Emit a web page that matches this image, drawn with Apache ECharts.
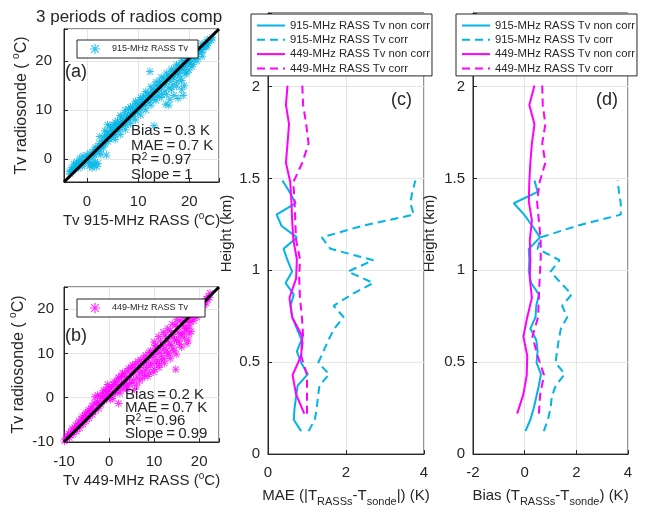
<!DOCTYPE html>
<html><head><meta charset="utf-8">
<script src="https://cdn.jsdelivr.net/npm/echarts@6/dist/echarts.min.js"></script>
<style>html,body{margin:0;padding:0;background:#fff}#c{width:646px;height:512px}</style>
</head><body><div id="c"></div><script>
// ---------------- data ----------------
const titleText = '3 periods of radios comp';
// panel (a): [Tv 915-MHz RASS, Tv radiosonde] (deg C)
const scatter915 = [[-3.4,-2.6],[-3.0,-1.8],[-2.6,-1.0],[-2.8,-2.2],[-2.2,-1.5],[-2.0,-0.6],[-1.6,-1.2],[-1.4,0.2],[-1.0,-0.8],[-0.8,0.6],[-0.4,-0.3],[0.0,0.8],[0.2,-0.6],[0.5,-1.4],[0.8,-0.9],[1.0,-1.8],[1.3,-1.2],[1.6,-0.6],[1.9,-1.6],[2.1,-0.9],[0.6,1.2],[1.1,0.4],[1.5,2.0],[1.8,1.1],[2.3,2.6],[2.5,1.6],[2.7,0.9],
[3.0,3.8],[3.2,2.4],[3.4,4.8],[3.6,3.1],[3.9,5.6],[3.8,0.8],[4.1,3.6],[4.3,5.0],[4.6,6.4],[4.8,4.3],[5.0,5.8],[5.3,7.0],[5.5,4.9],[5.7,6.3],[6.0,7.8],[6.2,5.8],[6.4,7.0],[6.7,8.6],[6.9,6.6],[7.2,7.9],[7.4,9.4],[7.6,7.0],[7.9,8.6],[8.1,10.2],[8.3,8.0],[8.6,9.3],[8.9,10.8],[9.1,8.7],[9.4,10.0],[9.6,11.4],[9.9,9.6],[10.2,11.0],[10.4,12.1],[10.6,10.2],[10.9,11.6],[11.1,12.9],[11.4,10.9],[11.6,12.3],[11.9,13.5],[12.1,11.6],[12.3,17.9],[12.4,13.0],[12.7,14.3],[12.9,12.2],[13.1,6.8],[13.2,13.8],[13.5,15.1],[13.7,12.8],[14.0,14.5],[14.2,15.9],[14.5,13.3],[14.7,15.2],[15.0,16.6],[15.2,13.9],[15.4,11.2],[15.5,15.8],[15.8,17.2],[16.0,14.6],[16.2,12.2],[16.3,16.4],[16.6,17.9],[16.8,15.2],[17.0,13.0],[17.1,17.0],[17.4,18.6],[17.6,15.9],[17.9,17.6],[18.1,19.2],[18.3,16.6],[18.5,14.2],[18.7,18.3],[19.0,19.9],[19.2,17.4],[19.4,18.9],[19.7,20.6],[19.9,18.2],[20.2,19.6],[20.4,21.2],[20.7,19.4],[21.0,20.6],[21.3,21.9],[21.6,20.9],[22.0,22.3],[22.4,21.8],[22.8,23.0],[23.3,22.9],[23.7,23.7],[24.1,24.5],[24.5,24.9],
[-3.3,-3.0],[-2.9,-2.4],[-2.5,-2.0],[-2.1,-1.0],[-1.7,-1.9],[-1.3,-0.6],[-0.9,-1.5],[-0.5,-0.9],[-0.1,0.3],[0.3,0.0],[0.7,0.5],[1.1,1.4],[1.4,0.9],[1.7,2.4],[2.0,2.0],[2.4,3.2],[2.8,2.3],[3.1,3.2],[3.5,3.9],[3.9,4.4],[4.2,4.2],[4.6,5.1],[4.9,5.6],[5.2,5.3],[5.6,6.1],[5.9,6.8],[6.3,6.4],[6.6,7.3],[6.9,7.7],[7.3,7.4],[7.7,8.3],[8.0,8.8],[8.4,8.6],[8.8,9.5],[9.2,9.9],[9.5,9.6],[9.9,10.6],[10.3,10.7],[10.7,11.3],[11.0,11.5],[11.4,11.9],[11.8,12.0],[12.2,12.9],[12.6,12.7],[13.0,13.6],[13.4,13.6],[13.8,14.5],[14.1,14.2],[14.5,15.0],[14.9,15.5],[15.3,15.4],[15.7,16.3],[16.1,16.2],[16.5,17.0],[16.9,16.7],[17.3,17.9],[17.7,17.5],[18.1,18.1],[18.5,19.2],[18.9,18.7],[19.3,19.6],[19.6,20.2],[20.0,19.9],[20.5,20.7],[20.9,21.3],[21.3,21.0],[21.8,22.2],[22.2,22.7],[22.7,22.4],[23.1,23.6],[23.5,23.2],[24.3,24.3],
[3.5,5.8],[4.5,6.9],[5.5,7.5],[6.5,8.9],[7.5,10.0],[2.5,4.6],[4.0,7.0],[8.5,10.6],[9.5,11.8],[10.5,12.6],[11.5,13.8],[12.5,14.8],[13.5,15.8],[14.5,16.7],[15.5,17.6],[16.5,18.4],[17.5,19.3],[18.5,20.2],[19.5,21.1],[20.5,21.8],[21.5,22.6],[22.5,23.6],[23.5,24.4],
[14.5,12.6],[15.5,13.2],[16.5,14.2],[17.5,14.9],[18.5,16.0],[19.5,17.6],[20.5,18.9],[21.5,20.0],[22.5,21.0],[16.0,11.0],[17.8,12.4],[18.8,13.0],[19.0,15.0],[9.5,8.0],[10.5,9.0],[11.5,10.0],[12.5,11.0],[13.5,12.0],[5.5,4.0],[6.5,5.0],[7.5,6.0],[8.5,7.2]];
const fitLine915 = [[-4.5,-4.7],[25.8,26.6]];
// panel (b): [Tv 449-MHz RASS, Tv radiosonde]
const scatter449 = [[-9.6,-9.4],[-9.2,-8.6],[-8.8,-9.0],[-8.4,-7.6],[-8.0,-8.3],[-7.6,-6.8],[-7.2,-7.6],[-6.9,-5.9],[-6.5,-6.8],[-6.1,-4.8],[-5.8,-6.0],[-5.4,-4.0],[-5.1,-5.3],[-4.7,-3.2],[-4.4,-4.6],[-4.0,-2.4],[-3.7,-3.8],[-3.3,-1.2],[-3.1,0.2],[-3.0,-3.0],[-2.6,-0.8],[-2.3,-2.4],[-2.0,0.4],[-1.8,-1.5],[-1.4,1.0],[-1.1,-0.6],[-0.8,1.8],[-0.5,0.0],[-0.2,2.4],[0.1,0.6],[0.4,2.0],[0.7,-0.2],[1.0,3.0],[1.3,1.2],[1.6,3.6],[1.9,1.8],[2.1,-1.3],[2.2,4.4],[2.5,2.4],[2.8,4.8],[3.1,2.0],[3.4,5.4],[3.7,3.4],[4.0,6.0],[4.2,2.4],[4.5,4.4],[4.8,6.8],[5.1,3.4],[5.4,5.8],[5.7,1.9],[5.9,7.6],[6.2,4.6],[6.5,6.8],[6.8,3.8],[7.0,8.6],[7.3,5.8],[7.6,7.8],[7.9,5.0],[8.1,9.6],[8.4,6.8],[8.7,8.8],[9.0,5.6],[9.2,10.6],[9.5,7.8],[9.8,9.8],[10.1,6.4],[10.3,11.8],[10.6,8.6],[10.9,10.8],[11.2,7.6],[11.4,12.8],[11.7,9.6],[12.0,11.8],[12.2,8.8],[12.5,14.2],[12.8,10.8],[13.1,12.8],[13.3,9.6],[13.6,15.2],[13.9,11.8],[14.2,13.8],[14.4,10.6],[14.8,6.4],[14.7,16.4],[15.0,13.0],[15.3,14.8],[15.6,12.0],[15.8,17.4],[16.1,14.2],[16.4,16.0],[16.7,13.4],[16.9,18.2],[17.2,15.6],[17.5,17.0],[17.6,13.0],[17.8,14.4],[18.0,19.0],[18.2,17.2],[18.5,18.2],[18.7,19.8],[19.0,18.6],[19.3,20.4],[19.6,19.4],[20.0,20.8],[20.4,20.2],[20.8,21.6],[21.2,21.0],[21.6,22.3],[22.0,22.8],[22.4,23.6],
[-9.9,-9.8],[-9.4,-9.0],[-9.0,-8.1],[-8.6,-8.4],[-8.2,-7.0],[-7.8,-7.4],[-7.4,-6.2],[-7.0,-6.9],[-6.7,-5.2],[-6.3,-5.9],[-5.9,-4.2],[-5.6,-5.1],[-5.2,-3.4],[-4.9,-4.2],[-4.5,-2.8],[-4.2,-3.6],[-3.8,-1.9],[-3.5,-2.9],[-2.8,-1.6],[-2.5,0.6],[-2.1,-1.2],[-1.6,-0.1],[-1.2,1.6],[-0.9,0.0],[-0.6,1.0],[-0.3,3.0],[0.0,1.4],[0.3,-0.4],[0.6,2.6],[0.9,0.8],[1.2,3.6],[1.5,1.6],[1.8,2.6],[2.1,4.6],[2.4,1.0],[2.7,3.4],[3.0,5.6],[3.3,3.0],[3.6,4.6],[3.9,2.0],[4.3,6.6],[4.6,3.2],[4.9,5.4],[5.2,7.4],[5.5,4.0],[5.8,6.4],[6.1,2.8],[6.4,8.2],[6.7,5.6],[7.0,7.2],[7.4,4.4],[7.7,9.0],[8.0,6.2],[8.3,8.0],[8.6,4.8],[8.9,10.2],[9.2,7.2],[9.6,9.2],[9.9,5.8],[10.2,11.2],[10.5,7.8],[10.8,10.0],[11.1,6.8],[11.4,11.6],[11.7,8.6],[12.0,10.8],[12.3,7.8],[12.7,13.4],[13.0,10.0],[13.3,12.0],[13.6,8.8],[13.9,14.4],[14.2,11.0],[14.5,13.0],[14.9,9.8],[15.2,16.0],[15.5,12.8],[15.8,14.2],[16.1,11.4],[16.4,17.0],[16.7,14.6],[17.0,15.6],[17.3,12.2],[17.6,17.8],[17.9,16.0],[18.2,15.0],[18.4,18.6],[18.8,17.4],[19.1,19.2],[19.5,18.2],[19.9,19.4],[20.3,21.0],[20.7,20.4],[21.1,21.6],[21.5,21.4],[21.9,22.2],[22.3,22.6],
[10.0,12.6],[11.0,13.8],[12.0,14.8],[13.0,15.6],[14.0,16.6],[15.0,17.6],[16.0,18.6],[17.0,19.4],[18.0,20.2],[19.0,21.0]];
const fitLine449 = [[-10,-10],[24.4,25]];
const statsA = ['Bias\u2009=\u20090.3 K','MAE\u2009=\u20090.7 K','R{sup|2}\u2009=\u20090.97','Slope\u2009=\u20091'];
const statsB = ['Bias\u2009=\u20090.2 K','MAE\u2009=\u20090.7 K','R{sup|2}\u2009=\u20090.96','Slope\u2009=\u20090.99'];
// profiles (heights in km)
const h915 = [0.125,0.187,0.249,0.311,0.373,0.435,0.497,0.559,0.621,0.683,0.745,0.807,0.869,0.931,0.993,1.055,1.117,1.179,1.241,1.303,1.365,1.427,1.489];
const h449 = [0.22,0.325,0.43,0.535,0.64,0.745,0.85,0.955,1.06,1.165,1.27,1.375,1.48,1.585,1.69,1.795,1.9,2.005];
const mae915NonCorr = [0.85,0.66,0.68,0.72,0.76,1.02,0.85,0.74,0.86,0.74,0.62,0.58,0.66,0.45,0.62,0.5,0.4,0.74,0.35,0.22,0.71,0.55,0.37];
const mae915Corr    = [1.04,1.2,1.25,1.28,1.32,1.57,1.29,1.42,1.55,1.7,1.94,1.68,2.15,2.7,2.05,2.7,1.6,1.38,2.4,3.74,3.65,3.7,3.78];
const mae449NonCorr = [0.93,0.72,0.63,0.85,0.88,0.62,0.55,0.72,0.74,0.65,0.62,0.6,0.57,0.46,0.5,0.54,0.46,0.5];
const mae449Corr    = [1.0,1.0,1.0,0.85,0.9,0.87,0.82,0.8,0.82,0.72,0.7,0.68,0.65,0.88,1.04,0.98,0.9,0.88];
const bias915NonCorr = [0.03,0.22,0.35,0.45,0.55,0.63,0.46,0.5,0.45,0.22,0.42,0.45,0.55,0.25,0.16,0.18,0.16,0.6,0.3,-0.02,-0.42,0.5,0.38];
const bias915Corr    = [0.74,0.9,1.0,1.05,1.2,1.55,1.2,1.25,1.32,1.4,1.65,1.45,1.82,1.4,1.0,1.35,0.5,0.62,2.0,3.72,3.72,3.65,3.6];
const bias449NonCorr = [-0.29,-0.05,0.08,0.1,-0.05,0.1,0.28,0.2,0.22,0.2,0.28,0.16,0.18,0.22,0.28,0.38,0.18,0.38];
const bias449Corr    = [0.55,0.6,0.75,0.5,0.3,0.52,0.55,0.58,0.62,0.62,0.55,0.48,0.58,0.8,0.68,0.8,0.7,0.68];
const profileNames = ['915-MHz RASS Tv non corr','915-MHz RASS Tv corr','449-MHz RASS Tv non corr','449-MHz RASS Tv corr'];
const scatterNames = ['915-MHz RASS Tv','449-MHz RASS Tv'];

// ---------------- style ----------------
const FONT = '"Liberation Sans", Arial, Helvetica, sans-serif';
const INK = '#262626';
const GRIDC = '#e6e6e6';
const CYAN = 'rgb(0,180,230)';
const MAG = '#ff00ff';
const ASTER = 'path://M0,4.4H10V5.6H0Z M4.4,0H5.6V10H4.4Z M0.8,1.6L1.6,0.8L9.2,8.4L8.4,9.2Z M8.4,0.8L9.2,1.6L1.6,9.2L0.8,8.4Z';
const pair = (xs, ys) => xs.map((x, i) => [x, ys[i]]);
const fmtStep = step => v => {
  const k = v / step;
  if (Math.abs(k - Math.round(k)) > 1e-6) return '';
  const r = Math.round(k) * step;
  return String(parseFloat(r.toFixed(4)));
};
function axis(gridIndex, min, max, step, margin, extra) {
  return Object.assign({
    type: 'value', gridIndex, min, max,
    axisLine: { show: true, onZero: false, lineStyle: { color: INK, width: 1 } },
    axisTick: { show: true, inside: true, length: 4, lineStyle: { color: INK } },
    axisLabel: { color: INK, fontSize: 15, fontFamily: FONT, margin, formatter: fmtStep(step) },
    splitLine: { show: true, lineStyle: { color: GRIDC, width: 1 } },
    nameLocation: 'middle',
    nameTextStyle: { color: INK, fontFamily: FONT, fontSize: 15 }
  }, extra || {});
}
const supRich = { sup: { fontSize: 10, lineHeight: 10, verticalAlign: 'top', fontFamily: FONT, color: INK } };
const subRich = { sub: { fontSize: 11, lineHeight: 11, verticalAlign: 'bottom', fontFamily: FONT, color: INK } };

const grids = [
  { left: 64, top: 29, width: 155, height: 153 },
  { left: 64, top: 287, width: 155, height: 155 },
  { left: 268, top: 13, width: 156, height: 446 },
  { left: 473, top: 13, width: 155, height: 446 }
].map(g => Object.assign(g, { show: true, borderColor: INK, borderWidth: 1, backgroundColor: '#fff' }));

const xAxes = [
  axis(0, -4.5, 25.8, 10, 12, { minInterval: 10, maxInterval: 10, name: 'Tv 915-MHz RASS ({sup|o}C)', nameGap: 29,
    nameTextStyle: { color: INK, fontFamily: FONT, fontSize: 15, lineHeight: 20, rich: supRich } }),
  axis(1, -10, 24.4, 10, 12, { interval: 10, name: 'Tv 449-MHz RASS ({sup|o}C)', nameGap: 29,
    nameTextStyle: { color: INK, fontFamily: FONT, fontSize: 15, lineHeight: 20, rich: supRich } }),
  axis(2, 0, 4, 2, 11, { interval: 2, name: 'MAE (|T{sub|RASSs}-T{sub|sonde}|) (K)', nameGap: 30,
    nameTextStyle: { color: INK, fontFamily: FONT, fontSize: 15, lineHeight: 22, rich: subRich } }),
  axis(3, -2, 4, 2, 11, { interval: 2, name: 'Bias (T{sub|RASSs}-T{sub|sonde}) (K)', nameGap: 30,
    nameTextStyle: { color: INK, fontFamily: FONT, fontSize: 15, lineHeight: 22, rich: subRich } })
];
const yAxes = [
  axis(0, -4.7, 26.6, 10, 12, { minInterval: 10, maxInterval: 10, name: 'Tv radiosonde ( {sup|o}C)', nameGap: 30,
    nameTextStyle: { color: INK, fontFamily: FONT, fontSize: 16, lineHeight: 20, rich: supRich } }),
  axis(1, -10, 25, 10, 10, { interval: 10, name: 'Tv radiosonde ( {sup|o}C)', nameGap: 35,
    nameTextStyle: { color: INK, fontFamily: FONT, fontSize: 16, lineHeight: 20, rich: supRich } }),
  axis(2, 0, 2.4, 0.5, 8, { interval: 0.5, name: 'Height (km)', nameGap: 34 }),
  axis(3, 0, 2.4, 0.5, 8, { interval: 0.5, name: 'Height (km)', nameGap: 36 })
];

function prof(name, xs, hs, gi, color, dashed) {
  return {
    type: 'line', name, xAxisIndex: gi, yAxisIndex: gi, data: pair(xs, hs),
    symbol: 'none', showSymbol: false, silent: true, animation: false,
    lineStyle: { color, width: 2, type: dashed ? [8, 5] : 'solid' },
    itemStyle: { color }
  };
}
const series = [
  { type: 'scatter', name: scatterNames[0], xAxisIndex: 0, yAxisIndex: 0, data: scatter915,
    symbol: ASTER, symbolSize: 8, itemStyle: { color: CYAN }, silent: true, animation: false },
  { type: 'line', name: 'fit915', xAxisIndex: 0, yAxisIndex: 0, data: fitLine915, symbol: 'none',
    lineStyle: { color: '#000', width: 3 }, z: 5, silent: true, animation: false },
  { type: 'scatter', name: scatterNames[1], xAxisIndex: 1, yAxisIndex: 1, data: scatter449,
    symbol: ASTER, symbolSize: 8, itemStyle: { color: MAG }, silent: true, animation: false },
  { type: 'line', name: 'fit449', xAxisIndex: 1, yAxisIndex: 1, data: fitLine449, symbol: 'none',
    lineStyle: { color: '#000', width: 3 }, z: 5, silent: true, animation: false },
  prof(profileNames[0], mae915NonCorr, h915, 2, CYAN, false),
  prof(profileNames[1], mae915Corr, h915, 2, CYAN, true),
  prof(profileNames[2], mae449NonCorr, h449, 2, MAG, false),
  prof(profileNames[3], mae449Corr, h449, 2, MAG, true),
  prof(profileNames[0], bias915NonCorr, h915, 3, CYAN, false),
  prof(profileNames[1], bias915Corr, h915, 3, CYAN, true),
  prof(profileNames[2], bias449NonCorr, h449, 3, MAG, false),
  prof(profileNames[3], bias449Corr, h449, 3, MAG, true)
];

const legendBase = { selectedMode: false, backgroundColor: '#fff', borderColor: INK, borderWidth: 1, borderRadius: 0, z: 10 };
const noSym = { color: 'rgba(0,0,0,0)', borderColor: 'rgba(0,0,0,0)', borderWidth: 0 };
const legends = [
  Object.assign({}, legendBase, { left: 77, top: 40, padding: [4, 10, 4, 13], itemWidth: 10, itemHeight: 10,
    data: [{ name: scatterNames[0], icon: ASTER }], textStyle: { fontSize: 9, fontFamily: FONT, color: INK, padding: [0, 0, 0, 7] } }),
  Object.assign({}, legendBase, { left: 77, top: 299, padding: [4, 17, 4, 13], itemWidth: 10, itemHeight: 10,
    data: [{ name: scatterNames[1], icon: ASTER }], textStyle: { fontSize: 9, fontFamily: FONT, color: INK, padding: [0, 0, 0, 7] } }),
  Object.assign({}, legendBase, { left: 251, top: 14, orient: 'vertical', padding: [6, 2, 2, 5], itemWidth: 28, itemHeight: 12, itemGap: 3.3,
    itemStyle: noSym, data: profileNames, textStyle: { fontSize: 11.3, fontFamily: FONT, color: INK } }),
  Object.assign({}, legendBase, { left: 456, top: 14, orient: 'vertical', padding: [6, 2, 2, 5], itemWidth: 28, itemHeight: 12, itemGap: 3.3,
    itemStyle: noSym, data: profileNames, textStyle: { fontSize: 11.3, fontFamily: FONT, color: INK } })
];

function txt(text, x, y, size, rich) {
  return { type: 'text', x, y, z: 20, silent: true,
    style: { text, fill: INK, font: size + 'px ' + FONT, textVerticalAlign: 'middle', verticalAlign: 'middle', rich: rich || undefined } };
}
const graphics = [
  txt(titleText, 36, 17, 17),
  txt('(a)', 65, 72, 18),
  txt('(b)', 65, 336, 18),
  txt('(c)', 391, 100, 18),
  txt('(d)', 596, 100, 18)
];
[131, 145.5, 160, 174.5].forEach((y, i) => graphics.push(txt(statsA[i], 131, y, 15, { sup: { fontSize: 10, verticalAlign: 'top', lineHeight: 10 } })));
[395, 408, 421, 434].forEach((y, i) => graphics.push(txt(statsB[i], 125, y, 15, { sup: { fontSize: 10, verticalAlign: 'top', lineHeight: 10 } })));

const chart = echarts.init(document.getElementById('c'), null, { renderer: 'canvas' });
chart.setOption({
  animation: false,
  backgroundColor: '#fff',
  textStyle: { fontFamily: FONT },
  grid: grids, xAxis: xAxes, yAxis: yAxes, legend: legends, series, graphic: graphics
});
</script></body></html>
